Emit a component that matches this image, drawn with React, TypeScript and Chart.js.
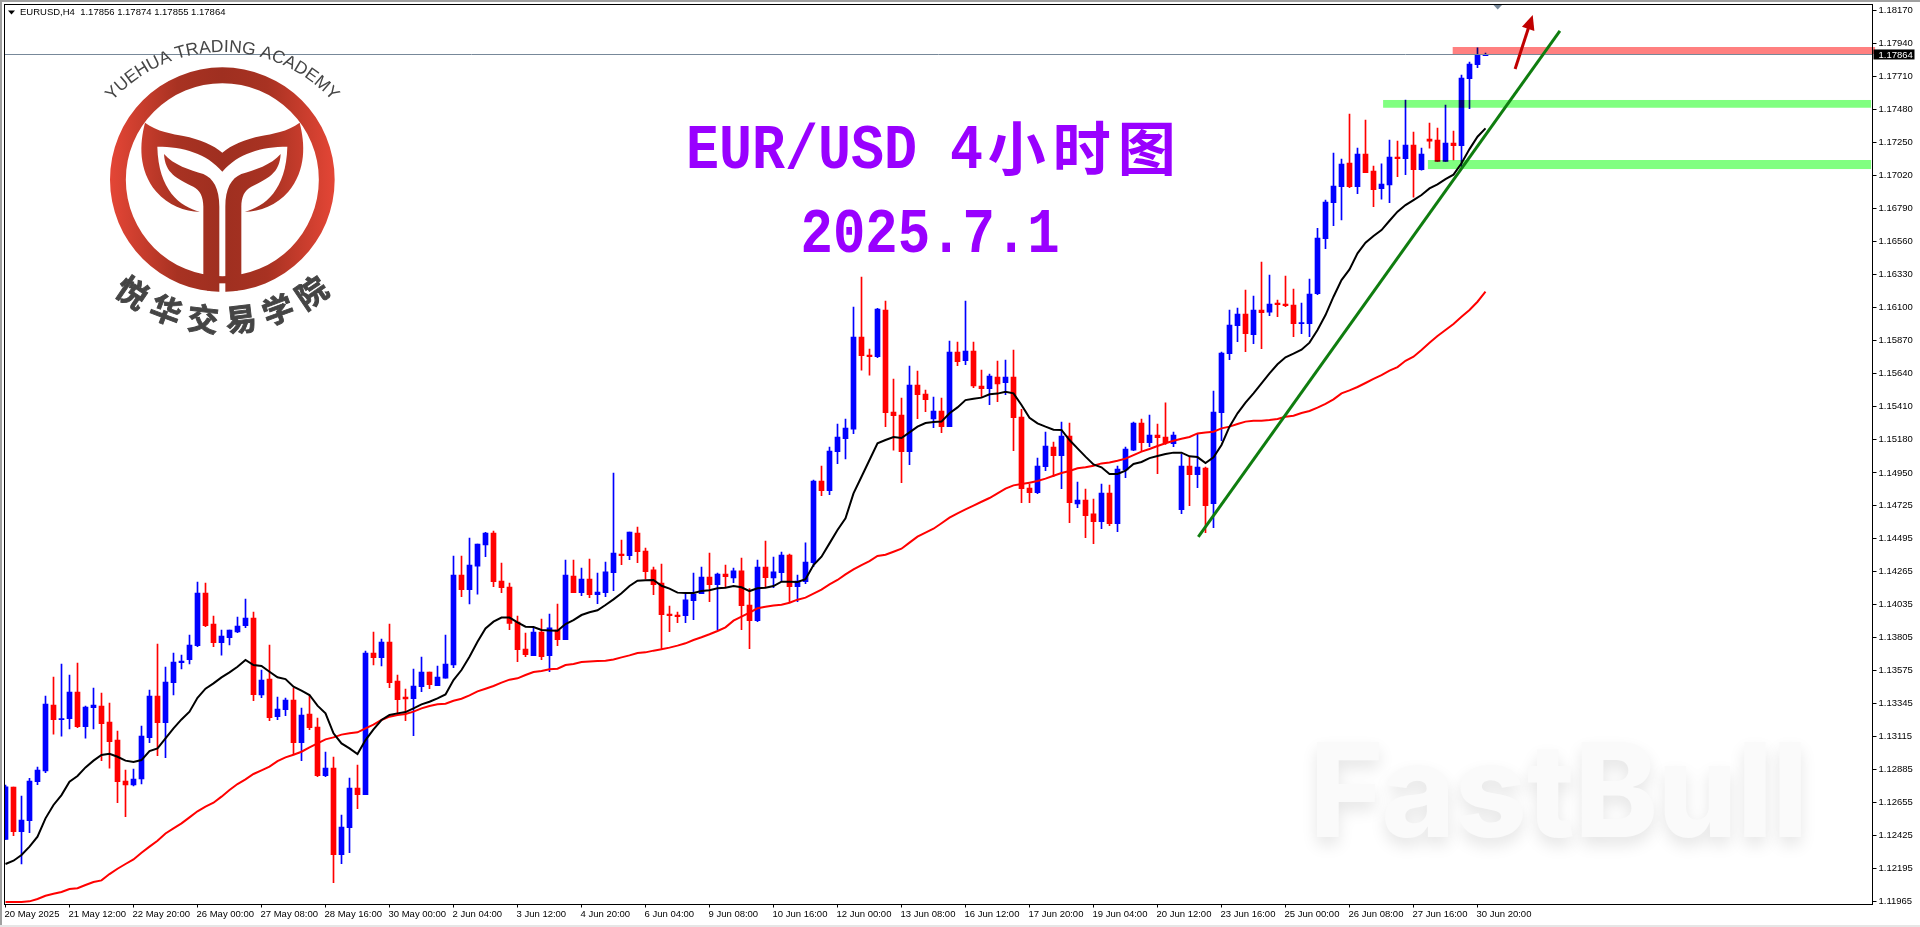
import { useEffect, useRef } from 'react';
import Chart from 'chart.js/auto';

const opens = [
  1.12398, 1.12762, 1.12451, 1.12528, 1.12799, 1.12874, 1.13333, 1.13231, 1.13238, 1.13424,
  1.13182, 1.13315, 1.13326, 1.13215, 1.13089, 1.12804, 1.12776, 1.12818, 1.13106, 1.13396,
  1.13210, 1.13489, 1.13628, 1.13649, 1.13746, 1.14113, 1.13897, 1.13767, 1.13802, 1.13842,
  1.13886, 1.13939, 1.13403, 1.13514, 1.13252, 1.13301, 1.13368, 1.13071, 1.13271, 1.13180,
  1.12841, 1.12894, 1.12291, 1.12479, 1.12755, 1.12709, 1.13695, 1.13663, 1.13772, 1.13500,
  1.13389, 1.13377, 1.13461, 1.13563, 1.13468, 1.13521, 1.13612, 1.14238, 1.14136, 1.14301,
  1.14448, 1.14531, 1.14197, 1.14155, 1.13911, 1.13723, 1.13677, 1.13842, 1.13677, 1.13856,
  1.13788, 1.14232, 1.14116, 1.14211, 1.14102, 1.14116, 1.14255, 1.14385, 1.14373, 1.14531,
  1.14406, 1.14274, 1.14183, 1.13967, 1.13960, 1.13956, 1.14060, 1.14109, 1.14225, 1.14171,
  1.14246, 1.14218, 1.14267, 1.14030, 1.13921, 1.14294, 1.14218, 1.14255, 1.14378, 1.14157,
  1.14192, 1.14325, 1.14893, 1.14826, 1.15098, 1.15188, 1.15255, 1.15896, 1.15771, 1.15759,
  1.16084, 1.15374, 1.15353, 1.15098, 1.15562, 1.15499, 1.15325, 1.15381, 1.15272, 1.15792,
  1.15731, 1.15799, 1.15555, 1.15536, 1.15618, 1.15578, 1.15618, 1.15339, 1.14845, 1.14812,
  1.14993, 1.15130, 1.15070, 1.15207, 1.14733, 1.14761, 1.14664, 1.14610, 1.14810, 1.14596,
  1.14970, 1.15109, 1.15297, 1.15160, 1.15214, 1.15200, 1.15153, 1.14694, 1.14998, 1.14937,
  1.14984, 1.14735, 1.15369, 1.15780, 1.15975, 1.16056, 1.15912, 1.16084, 1.16070, 1.16133,
  1.16126, 1.16119, 1.15989, 1.15989, 1.16198, 1.16581, 1.16832, 1.16943, 1.17108, 1.16943,
  1.17171, 1.17052, 1.16929, 1.16955, 1.17150, 1.17138, 1.17233, 1.17061, 1.17275, 1.17268,
  1.17119, 1.17247, 1.17229, 1.17695, 1.17793, 1.17856,
];

const closes = [
  1.12764, 1.12451, 1.12532, 1.12804, 1.12881, 1.13340, 1.13231, 1.13236, 1.13424, 1.13182,
  1.13319, 1.13333, 1.13203, 1.13078, 1.12799, 1.12776, 1.12818, 1.13117, 1.13396, 1.13210,
  1.13493, 1.13633, 1.13640, 1.13751, 1.14113, 1.13886, 1.13767, 1.13814, 1.13855, 1.13883,
  1.13939, 1.13405, 1.13507, 1.13245, 1.13305, 1.13368, 1.13071, 1.13264, 1.13175, 1.12841,
  1.12894, 1.12291, 1.12484, 1.12755, 1.12709, 1.13695, 1.13663, 1.13772, 1.13489, 1.13370,
  1.13375, 1.13466, 1.13563, 1.13475, 1.13528, 1.13619, 1.14238, 1.14136, 1.14308, 1.14454,
  1.14531, 1.14192, 1.14150, 1.13902, 1.13719, 1.13684, 1.13842, 1.13670, 1.13870, 1.13788,
  1.14239, 1.14116, 1.14211, 1.14102, 1.14120, 1.14260, 1.14392, 1.14373, 1.14538, 1.14401,
  1.14262, 1.14171, 1.13962, 1.13956, 1.13949, 1.14065, 1.14106, 1.14225, 1.14171, 1.14246,
  1.14227, 1.14267, 1.14025, 1.13921, 1.14294, 1.14220, 1.14260, 1.14378, 1.14157, 1.14197,
  1.14329, 1.14893, 1.14826, 1.15102, 1.15200, 1.15262, 1.15896, 1.15766, 1.15759, 1.16091,
  1.15369, 1.15348, 1.15098, 1.15562, 1.15495, 1.15460, 1.15381, 1.15272, 1.15792, 1.15724,
  1.15799, 1.15555, 1.15536, 1.15625, 1.15569, 1.15618, 1.15334, 1.14840, 1.14812, 1.14998,
  1.15137, 1.15070, 1.15207, 1.14742, 1.14761, 1.14652, 1.14610, 1.14810, 1.14596, 1.14977,
  1.15116, 1.15297, 1.15160, 1.15214, 1.15195, 1.15160, 1.15214, 1.14998, 1.14937, 1.14991,
  1.14722, 1.15374, 1.15785, 1.15980, 1.16056, 1.15919, 1.16084, 1.16066, 1.16126, 1.16121,
  1.16114, 1.15989, 1.15994, 1.16196, 1.16586, 1.16836, 1.16948, 1.17101, 1.16943, 1.17171,
  1.17041, 1.16922, 1.16962, 1.17150, 1.17138, 1.17233, 1.17061, 1.17171, 1.17261, 1.17119,
  1.17247, 1.17229, 1.17700, 1.17797, 1.17860, 1.17864,
];

const highs = [
  1.12776, 1.12762, 1.12699, 1.12822, 1.12901, 1.13396, 1.13528, 1.13619, 1.13542, 1.13626,
  1.13326, 1.13452, 1.13417, 1.13347, 1.13152, 1.12881, 1.12887, 1.13187, 1.13438, 1.13758,
  1.13598, 1.13695, 1.13681, 1.13821, 1.14190, 1.14183, 1.13953, 1.13855, 1.13855, 1.13946,
  1.14071, 1.13981, 1.13577, 1.13751, 1.13389, 1.13382, 1.13452, 1.13312, 1.13403, 1.13243,
  1.13006, 1.12971, 1.12567, 1.12825, 1.12915, 1.13709, 1.13842, 1.13793, 1.13897, 1.13542,
  1.13445, 1.13584, 1.13667, 1.13563, 1.13605, 1.13821, 1.14371, 1.14371, 1.14496, 1.14454,
  1.14536, 1.14545, 1.14322, 1.14183, 1.13953, 1.13835, 1.13874, 1.13932, 1.13967, 1.14037,
  1.14343, 1.14343, 1.14287, 1.14350, 1.14253, 1.14329, 1.14949, 1.14482, 1.14538, 1.14573,
  1.14427, 1.14294, 1.14315, 1.14023, 1.13981, 1.14106, 1.14253, 1.14294, 1.14392, 1.14253,
  1.14308, 1.14287, 1.14357, 1.14144, 1.14343, 1.14475, 1.14364, 1.14399, 1.14385, 1.14239,
  1.14462, 1.14900, 1.14998, 1.15130, 1.15290, 1.15325, 1.16105, 1.16314, 1.15813, 1.16096,
  1.16147, 1.15604, 1.15471, 1.15694, 1.15659, 1.15527, 1.15478, 1.15471, 1.15868, 1.15861,
  1.16147, 1.15861, 1.15666, 1.15638, 1.15729, 1.15736, 1.15806, 1.15392, 1.14872, 1.15053,
  1.15235, 1.15165, 1.15304, 1.15297, 1.14886, 1.14838, 1.14768, 1.14872, 1.14865, 1.14998,
  1.15130, 1.15304, 1.15325, 1.15353, 1.15290, 1.15437, 1.15235, 1.15081, 1.15060, 1.15221,
  1.14991, 1.15520, 1.15792, 1.16084, 1.16098, 1.16223, 1.16182, 1.16418, 1.16328, 1.16154,
  1.16321, 1.16230, 1.16133, 1.16300, 1.16653, 1.16850, 1.17178, 1.17136, 1.17449, 1.17212,
  1.17407, 1.17087, 1.17103, 1.17268, 1.17261, 1.17547, 1.17324, 1.17212, 1.17386, 1.17352,
  1.17512, 1.17331, 1.17721, 1.17811, 1.17911, 1.17874,
];

const lows = [
  1.12398, 1.12423, 1.12226, 1.12444, 1.12778, 1.12862, 1.13131, 1.13117, 1.13166, 1.13175,
  1.13103, 1.13166, 1.12946, 1.12894, 1.12653, 1.12556, 1.12769, 1.12783, 1.13071, 1.12980,
  1.12966, 1.13403, 1.13584, 1.13619, 1.13739, 1.13879, 1.13739, 1.13681, 1.13751, 1.13837,
  1.13872, 1.13363, 1.13384, 1.13224, 1.13231, 1.13259, 1.12994, 1.12946, 1.13161, 1.12834,
  1.12834, 1.12096, 1.12228, 1.12305, 1.12611, 1.12709, 1.13612, 1.13605, 1.13454, 1.13275,
  1.13224, 1.13120, 1.13426, 1.13447, 1.13468, 1.13521, 1.13593, 1.14088, 1.14037, 1.14106,
  1.14366, 1.14157, 1.14116, 1.13858, 1.13635, 1.13670, 1.13677, 1.13649, 1.13566, 1.13747,
  1.13788, 1.14116, 1.14095, 1.14081, 1.14039, 1.14088, 1.14130, 1.14311, 1.14345, 1.14325,
  1.14211, 1.14102, 1.13723, 1.13844, 1.13907, 1.13907, 1.13928, 1.14109, 1.14053, 1.13858,
  1.14157, 1.14185, 1.13858, 1.13726, 1.13914, 1.14157, 1.14150, 1.14192, 1.14053, 1.14053,
  1.14178, 1.14297, 1.14791, 1.14798, 1.15014, 1.15047, 1.15223, 1.15666, 1.15631, 1.15752,
  1.15272, 1.15109, 1.14882, 1.15007, 1.15327, 1.15376, 1.15265, 1.15230, 1.15272, 1.15696,
  1.15703, 1.15543, 1.15481, 1.15425, 1.15446, 1.15495, 1.15105, 1.14742, 1.14742, 1.14805,
  1.14965, 1.14923, 1.14840, 1.14603, 1.14708, 1.14499, 1.14457, 1.14561, 1.14582, 1.14540,
  1.14917, 1.15105, 1.15105, 1.15132, 1.14944, 1.15149, 1.15132, 1.14666, 1.14722, 1.14847,
  1.14534, 1.14568, 1.15174, 1.15738, 1.15864, 1.15794, 1.15850, 1.15815, 1.16045, 1.16038,
  1.16107, 1.15898, 1.15919, 1.15898, 1.16191, 1.16511, 1.16671, 1.16711, 1.16936, 1.16894,
  1.17041, 1.16804, 1.16857, 1.16832, 1.17013, 1.17027, 1.16871, 1.17059, 1.17212, 1.17119,
  1.17119, 1.17129, 1.17082, 1.17486, 1.17772, 1.17855,
];

// MA lines (black = fast, red = slow)
const fastMa = [
  1.12226, 1.12249, 1.12289, 1.12347, 1.12416, 1.12544, 1.12637, 1.12706, 1.12799, 1.12839,
  1.12899, 1.12946, 1.12985, 1.12994, 1.12973, 1.12946, 1.12936, 1.12950, 1.13013, 1.13031,
  1.13101, 1.13171, 1.13233, 1.13287, 1.13384, 1.13447, 1.13484, 1.13526, 1.13561, 1.13600,
  1.13647, 1.13612, 1.13605, 1.13565, 1.13526, 1.13514, 1.13461, 1.13433, 1.13403, 1.13329,
  1.13275, 1.13136, 1.13066, 1.13031, 1.12992, 1.13089, 1.13164, 1.13229, 1.13264, 1.13275,
  1.13284, 1.13310, 1.13338, 1.13356, 1.13380, 1.13407, 1.13507, 1.13577, 1.13670, 1.13774,
  1.13867, 1.13914, 1.13942, 1.13942, 1.13909, 1.13879, 1.13877, 1.13856, 1.13853, 1.13851,
  1.13897, 1.13925, 1.13960, 1.13979, 1.13993, 1.14030, 1.14069, 1.14111, 1.14162, 1.14199,
  1.14202, 1.14204, 1.14164, 1.14144, 1.14116, 1.14113, 1.14113, 1.14127, 1.14132, 1.14146,
  1.14150, 1.14162, 1.14153, 1.14127, 1.14146, 1.14150, 1.14162, 1.14192, 1.14192, 1.14190,
  1.14209, 1.14308, 1.14366, 1.14459, 1.14552, 1.14633, 1.14807, 1.14923, 1.15040, 1.15156,
  1.15179, 1.15200, 1.15193, 1.15232, 1.15272, 1.15297, 1.15304, 1.15307, 1.15365, 1.15406,
  1.15457, 1.15467, 1.15474, 1.15497, 1.15502, 1.15515, 1.15504, 1.15423, 1.15334, 1.15295,
  1.15272, 1.15251, 1.15249, 1.15179, 1.15121, 1.15063, 1.15009, 1.14989, 1.14942, 1.14942,
  1.14965, 1.15012, 1.15026, 1.15053, 1.15067, 1.15081, 1.15091, 1.15091, 1.15065, 1.15060,
  1.15019, 1.15058, 1.15144, 1.15272, 1.15365, 1.15439, 1.15504, 1.15573, 1.15643, 1.15706,
  1.15755, 1.15780, 1.15808, 1.15857, 1.15945, 1.16049, 1.16177, 1.16293, 1.16367, 1.16479,
  1.16553, 1.16600, 1.16641, 1.16706, 1.16769, 1.16815, 1.16850, 1.16885, 1.16931, 1.16959,
  1.16996, 1.17027, 1.17106, 1.17205, 1.17291, 1.17349,
];

const slowMa = [
  1.11961, 1.11961, 1.11961, 1.11966, 1.11982, 1.12005, 1.12019, 1.12031, 1.12052, 1.12057,
  1.12080, 1.12101, 1.12112, 1.12156, 1.12193, 1.12226, 1.12258, 1.12305, 1.12347, 1.12388,
  1.12439, 1.12474, 1.12509, 1.12551, 1.12593, 1.12625, 1.12653, 1.12695, 1.12741, 1.12783,
  1.12816, 1.12853, 1.12878, 1.12904, 1.12943, 1.12969, 1.12987, 1.13008, 1.13038, 1.13066,
  1.13094, 1.13108, 1.13127, 1.13136, 1.13143, 1.13171, 1.13196, 1.13229, 1.13252, 1.13264,
  1.13271, 1.13287, 1.13310, 1.13326, 1.13338, 1.13342, 1.13363, 1.13377, 1.13400, 1.13428,
  1.13447, 1.13466, 1.13489, 1.13510, 1.13519, 1.13542, 1.13563, 1.13570, 1.13582, 1.13586,
  1.13612, 1.13619, 1.13633, 1.13637, 1.13640, 1.13642, 1.13651, 1.13665, 1.13679, 1.13696,
  1.13700, 1.13712, 1.13721, 1.13733, 1.13747, 1.13763, 1.13786, 1.13805, 1.13826, 1.13849,
  1.13874, 1.13921, 1.13949, 1.13976, 1.14007, 1.14018, 1.14027, 1.14032, 1.14046, 1.14067,
  1.14081, 1.14109, 1.14137, 1.14174, 1.14204, 1.14243, 1.14278, 1.14308, 1.14336, 1.14371,
  1.14380, 1.14401, 1.14422, 1.14464, 1.14506, 1.14534, 1.14561, 1.14599, 1.14638, 1.14668,
  1.14696, 1.14722, 1.14749, 1.14775, 1.14807, 1.14840, 1.14863, 1.14872, 1.14882, 1.14893,
  1.14910, 1.14930, 1.14949, 1.14963, 1.14982, 1.14989, 1.15000, 1.15016, 1.15023, 1.15035,
  1.15049, 1.15074, 1.15098, 1.15116, 1.15137, 1.15156, 1.15174, 1.15188, 1.15200, 1.15225,
  1.15232, 1.15237, 1.15260, 1.15272, 1.15290, 1.15307, 1.15313, 1.15313, 1.15318, 1.15325,
  1.15341, 1.15348, 1.15367, 1.15381, 1.15404, 1.15430, 1.15462, 1.15504, 1.15525, 1.15548,
  1.15576, 1.15604, 1.15631, 1.15662, 1.15687, 1.15731, 1.15759, 1.15806, 1.15857, 1.15903,
  1.15945, 1.15987, 1.16038, 1.16084, 1.16142, 1.16212,
];

const priceTicks = [
  1.1817, 1.1794, 1.1771, 1.1748, 1.1725, 1.1702, 1.1679, 1.1656, 1.1633, 1.161, 1.1587, 1.1564,
  1.1541, 1.1518, 1.1495, 1.14725, 1.14495, 1.14265, 1.14035, 1.13805, 1.13575, 1.13345, 1.13115,
  1.12885, 1.12655, 1.12425, 1.12195, 1.11965,
];

const timeLabels = [
  '20 May 2025', '21 May 12:00', '22 May 20:00', '26 May 00:00', '27 May 08:00', '28 May 16:00',
  '30 May 00:00', '2 Jun 04:00', '3 Jun 12:00', '4 Jun 20:00', '6 Jun 04:00', '9 Jun 08:00',
  '10 Jun 16:00', '12 Jun 00:00', '13 Jun 08:00', '16 Jun 12:00', '17 Jun 20:00', '19 Jun 04:00',
  '20 Jun 12:00', '23 Jun 16:00', '25 Jun 00:00', '26 Jun 08:00', '27 Jun 16:00', '30 Jun 20:00',
];

const BARS_PER_LABEL = 8;
const LAST_PRICE = 1.17864;
const PRICE_MIN = 1.11944;
const PRICE_MAX = 1.18212;
const X_MIN = -0.125;
const X_MAX = 233.375;
const AXIS_FONT = 'Liberation Sans';

// zones and drawn lines, in bar index / price
const zones = [
  { from: 180.9, to: 233.7, top: 1.17916, bottom: 1.17867, color: '#ff8080' },
  { from: 172.2, to: 233.2, top: 1.17547, bottom: 1.17493, color: '#80ff80' },
  { from: 177.8, to: 233.2, top: 1.17129, bottom: 1.17066, color: '#80ff80' },
];
const trendLine = { x1: 149.1, y1: 1.14505, x2: 194.3, y2: 1.18029 };
const arrowLine = { x1: 188.7, y1: 1.17763, x2: 190.9, y2: 1.18139 };

function drawCurvedText(ctx: CanvasRenderingContext2D, text: string, cx: number, cy: number, r: number) {
  const chars = text.split('');
  const widths = chars.map((c) => ctx.measureText(c).width);
  const total = widths.reduce((a, b) => a + b, 0);
  let run = -total / 2;
  chars.forEach((c, i) => {
    const a = (run + widths[i] / 2) / r;
    ctx.save();
    ctx.translate(cx + r * Math.sin(a), cy - r * Math.cos(a));
    ctx.rotate(a);
    ctx.fillText(c, 0, 0);
    ctx.restore();
    run += widths[i];
  });
}

function drawLogo(ctx: CanvasRenderingContext2D) {
  ctx.save();
  // logo paths are in a 3x grid
  ctx.translate(100, 30);
  ctx.scale(1 / 3, 1 / 3);

  const grad = ctx.createLinearGradient(30, 0, 704, 0);
  grad.addColorStop(0, '#e44636');
  grad.addColorStop(0.3, '#a83222');
  grad.addColorStop(0.5, '#9f2f20');
  grad.addColorStop(0.7, '#a83222');
  grad.addColorStop(1, '#e44636');
  ctx.fillStyle = grad;

  // ring
  ctx.beginPath();
  ctx.arc(367, 449, 337, 0, Math.PI * 2);
  ctx.arc(367, 449, 289.5, 0, Math.PI * 2, true);
  ctx.fill();

  // tail
  ctx.beginPath();
  ctx.moveTo(135, 278);
  ctx.bezierCurveTo(170, 305, 220, 312, 250, 318);
  ctx.bezierCurveTo(300, 328, 340, 345, 367, 368);
  ctx.bezierCurveTo(394, 345, 434, 328, 484, 318);
  ctx.bezierCurveTo(514, 312, 564, 305, 599, 278);
  ctx.bezierCurveTo(615, 340, 620, 420, 565, 485);
  ctx.bezierCurveTo(530, 525, 480, 545, 434, 545);
  ctx.bezierCurveTo(494, 530, 559, 480, 562, 350);
  ctx.bezierCurveTo(484, 350, 414, 370, 367, 425);
  ctx.bezierCurveTo(320, 370, 250, 350, 172, 350);
  ctx.bezierCurveTo(175, 480, 240, 530, 300, 545);
  ctx.bezierCurveTo(254, 545, 204, 525, 169, 485);
  ctx.bezierCurveTo(114, 420, 119, 340, 135, 278);
  ctx.fill();

  // stems with inner leaves
  [false, true].forEach((mirror) => {
    ctx.save();
    if (mirror) {
      ctx.translate(734, 0);
      ctx.scale(-1, 1);
    }
    ctx.beginPath();
    ctx.moveTo(192, 372);
    ctx.bezierCurveTo(220, 405, 270, 420, 310, 432);
    ctx.bezierCurveTo(340, 445, 358, 475, 358, 530);
    ctx.lineTo(358, 752);
    ctx.bezierCurveTo(358, 765, 340, 782, 322, 782);
    ctx.lineTo(300, 740);
    ctx.lineTo(310, 733);
    ctx.lineTo(310, 530);
    ctx.bezierCurveTo(310, 500, 300, 480, 280, 470);
    ctx.bezierCurveTo(230, 445, 195, 430, 192, 372);
    ctx.fill();
    ctx.restore();
  });
  // slit between the stems
  ctx.fillStyle = '#ffffff';
  ctx.fillRect(358, 760, 18, 30);
  ctx.restore();

  ctx.fillStyle = '#454545';
  ctx.textAlign = 'center';
  ctx.textBaseline = 'alphabetic';
  ctx.font = '17.5px "Liberation Sans"';
  drawCurvedText(ctx, 'YUEHUA TRADING ACADEMY', 222.3, 200, 148);

  const cnChars = ['悦', '华', '交', '易', '学', '院'];
  ctx.font = 'bold 31px "Noto Sans CJK SC"';
  ctx.textBaseline = 'middle';
  ctx.strokeStyle = '#454545';
  ctx.lineWidth = 0.9;
  cnChars.forEach((c, i) => {
    const a = ((2.5 - i) * 13.7 * Math.PI) / 180;
    ctx.save();
    ctx.translate(222 - 159 * Math.sin(a), 161 + 159 * Math.cos(a));
    ctx.rotate(a);
    ctx.fillText(c, 0, 0);
    ctx.strokeText(c, 0, 0);
    ctx.restore();
  });
}

function drawTitleLatin(ctx: CanvasRenderingContext2D, text: string, x: number, baseline: number, size: number) {
  ctx.save();
  ctx.translate(x, baseline);
  ctx.scale(1, 1.15);
  ctx.font = `bold ${size}px "Liberation Mono"`;
  ctx.fillText(text, 0, 0);
  ctx.restore();
}

const overlayPlugin = {
  id: 'mtOverlay',
  beforeDraw(chart: any) {
    const { ctx, width, height } = chart;
    ctx.save();
    ctx.fillStyle = '#ffffff';
    ctx.fillRect(0, 0, width, height);
    // window frame
    ctx.fillStyle = '#a0a0a0';
    ctx.fillRect(0, 0, width, 2);
    ctx.fillRect(0, 0, 2, height);
    ctx.fillStyle = '#e6e6e6';
    ctx.fillRect(0, height - 2, width, 2);
    ctx.restore();
  },
  beforeDatasetsDraw(chart: any) {
    const { ctx } = chart;
    ctx.save();
    // faint watermark
    ctx.font = '800 130px Inter';
    ctx.textAlign = 'left';
    ctx.textBaseline = 'alphabetic';
    const w = ctx.measureText('FastBull').width;
    ctx.translate(1310, 837);
    ctx.scale(498 / w, 1);
    ctx.shadowColor = 'rgba(0,0,0,0.1)';
    ctx.shadowBlur = 16;
    ctx.shadowOffsetY = 8;
    ctx.fillStyle = '#fafafa';
    ctx.fillText('FastBull', 0, 0);
    ctx.restore();
  },
  afterDatasetsDraw(chart: any) {
    const { ctx, chartArea, scales } = chart;
    const { x, y } = scales;
    ctx.save();

    ctx.globalCompositeOperation = 'multiply';
    zones.forEach((z) => {
      ctx.fillStyle = z.color;
      const top = y.getPixelForValue(z.top);
      ctx.fillRect(
        x.getPixelForValue(z.from),
        top,
        x.getPixelForValue(z.to) - x.getPixelForValue(z.from),
        y.getPixelForValue(z.bottom) - top,
      );
    });
    ctx.globalCompositeOperation = 'source-over';

    // current price line
    ctx.strokeStyle = '#778899';
    ctx.lineWidth = 1;
    ctx.beginPath();
    ctx.moveTo(chartArea.left, Math.floor(y.getPixelForValue(LAST_PRICE)) + 0.5);
    ctx.lineTo(chartArea.right, Math.floor(y.getPixelForValue(LAST_PRICE)) + 0.5);
    ctx.stroke();

    // trend line
    ctx.strokeStyle = '#0f7d0f';
    ctx.lineWidth = 3;
    ctx.beginPath();
    ctx.moveTo(x.getPixelForValue(trendLine.x1), y.getPixelForValue(trendLine.y1));
    ctx.lineTo(x.getPixelForValue(trendLine.x2), y.getPixelForValue(trendLine.y2));
    ctx.stroke();

    // red arrow
    const ax1 = x.getPixelForValue(arrowLine.x1);
    const ay1 = y.getPixelForValue(arrowLine.y1);
    const ax2 = x.getPixelForValue(arrowLine.x2);
    const ay2 = y.getPixelForValue(arrowLine.y2);
    const ang = Math.atan2(ay2 - ay1, ax2 - ax1);
    ctx.strokeStyle = '#c00000';
    ctx.fillStyle = '#c00000';
    ctx.lineWidth = 3;
    ctx.beginPath();
    ctx.moveTo(ax1, ay1);
    ctx.lineTo(ax2 - 14 * Math.cos(ang), ay2 - 14 * Math.sin(ang));
    ctx.stroke();
    ctx.beginPath();
    ctx.moveTo(ax2, ay2);
    ctx.lineTo(ax2 - 16 * Math.cos(ang - 0.42), ay2 - 16 * Math.sin(ang - 0.42));
    ctx.lineTo(ax2 - 16 * Math.cos(ang + 0.42), ay2 - 16 * Math.sin(ang + 0.42));
    ctx.closePath();
    ctx.fill();

    // small marker hanging from the top border
    ctx.fillStyle = '#778899';
    ctx.beginPath();
    ctx.moveTo(1493.5, 5);
    ctx.lineTo(1502, 5);
    ctx.lineTo(1497.7, 9.5);
    ctx.closePath();
    ctx.fill();

    // symbol line
    ctx.fillStyle = '#000000';
    ctx.beginPath();
    ctx.moveTo(8, 10.5);
    ctx.lineTo(15, 10.5);
    ctx.lineTo(11.5, 14.5);
    ctx.closePath();
    ctx.fill();
    ctx.font = `9.5px "${AXIS_FONT}"`;
    ctx.textAlign = 'left';
    ctx.textBaseline = 'middle';
    ctx.fillText('EURUSD,H4  1.17856 1.17874 1.17855 1.17864', 20, 12.7);

    // titles
    ctx.fillStyle = '#9900ff';
    ctx.textBaseline = 'alphabetic';
    drawTitleLatin(ctx, 'EUR/USD 4', 686, 168.3, 55);
    drawTitleLatin(ctx, '2025.7.1', 800.5, 251.7, 54);
    ctx.font = 'bold 58px "Noto Sans CJK SC"';
    ctx.textAlign = 'center';
    ctx.textBaseline = 'middle';
    ['小', '时', '图'].forEach((c, i) => {
      ctx.fillText(c, 1016.7 + i * 65, 148);
    });

    drawLogo(ctx);
    ctx.restore();

    // frame, left and top sides are not drawn by the axes
    ctx.save();
    ctx.strokeStyle = '#000000';
    ctx.lineWidth = 1;
    ctx.strokeRect(chartArea.left, chartArea.top, chartArea.right - chartArea.left, chartArea.bottom - chartArea.top);
    ctx.restore();
  },
  afterDraw(chart: any) {
    const { ctx, scales } = chart;
    const py = scales.y.getPixelForValue(LAST_PRICE);
    ctx.save();
    ctx.fillStyle = '#000000';
    ctx.fillRect(1873.5, py - 5, 41, 10);
    ctx.fillStyle = '#ffffff';
    ctx.font = `9.5px "${AXIS_FONT}"`;
    ctx.textAlign = 'left';
    ctx.textBaseline = 'middle';
    ctx.fillText(LAST_PRICE.toFixed(5), 1878.5, py + 0.5);
    ctx.restore();
  },
};

// the axes would otherwise reserve room for half of their first and last labels
function clearScalePadding(scale: any) {
  scale.paddingTop = 0;
  scale.paddingBottom = 0;
  scale.paddingLeft = 0;
  scale.paddingRight = 0;
}

export default function App() {
  const canvasRef = useRef<HTMLCanvasElement>(null);

  useEffect(() => {
    if (!canvasRef.current) return;
    const ctx = canvasRef.current.getContext('2d');
    if (!ctx) return;

    const candleColors = closes.map((c, i) => (c >= opens[i] ? '#0000ff' : '#ff0000'));

    const chart = new Chart(ctx, {
      type: 'bar',
      data: {
        datasets: [
          {
            type: 'line',
            label: 'MA fast',
            data: fastMa.map((v, i) => ({ x: i, y: v })),
            borderColor: '#000000',
            borderWidth: 2,
            pointRadius: 0,
            tension: 0,
            order: 0,
          },
          {
            type: 'line',
            label: 'MA slow',
            data: slowMa.map((v, i) => ({ x: i, y: v })),
            borderColor: '#ff0000',
            borderWidth: 2,
            pointRadius: 0,
            tension: 0,
            order: 1,
          },
          {
            label: 'body',
            data: opens.map((o, i) => ({ x: i, y: [o, closes[i]] })),
            backgroundColor: candleColors,
            barThickness: 5,
            grouped: false,
            minBarLength: 1,
            order: 2,
          },
          {
            label: 'wick',
            data: highs.map((h, i) => ({ x: i, y: [lows[i], h] })),
            backgroundColor: candleColors,
            barThickness: 1,
            grouped: false,
            order: 3,
          },
        ],
      } as any,
      options: {
        responsive: false,
        animation: false,
        devicePixelRatio: 1,
        events: [],
        layout: { padding: { left: 4.5, top: 4.5, right: 0, bottom: 0 } },
        plugins: { legend: { display: false }, tooltip: { enabled: false }, title: { display: false } },
        scales: {
          x: {
            type: 'linear',
            min: X_MIN,
            max: X_MAX,
            bounds: 'data',
            offset: false,
            border: { color: '#000000' },
            grid: { drawOnChartArea: false, offset: false, color: '#000000', tickColor: '#000000', tickLength: 3 },
            ticks: {
              align: 'start',
              maxRotation: 0,
              autoSkip: false,
              padding: 1,
              labelOffset: -1,
              color: '#000000',
              font: { family: AXIS_FONT, size: 9.5 },
              callback: (v: any) => timeLabels[Math.round(Number(v) / BARS_PER_LABEL)],
            },
            afterBuildTicks: (scale: any) => {
              scale.ticks = timeLabels.map((_, i) => ({ value: i * BARS_PER_LABEL }));
            },
            afterFit: (scale: any) => {
              scale.height = 22.5;
              clearScalePadding(scale);
            },
          },
          y: {
            type: 'linear',
            position: 'right',
            min: PRICE_MIN,
            max: PRICE_MAX,
            bounds: 'data',
            border: { color: '#000000' },
            grid: { drawOnChartArea: false, color: '#000000', tickColor: '#000000', tickLength: 4 },
            ticks: {
              autoSkip: false,
              padding: 2,
              color: '#000000',
              font: { family: AXIS_FONT, size: 9.5 },
              callback: (v: any) => Number(v).toFixed(5),
            },
            afterBuildTicks: (scale: any) => {
              scale.ticks = priceTicks.map((p) => ({ value: p }));
            },
            afterFit: (scale: any) => {
              scale.width = 47.5;
              clearScalePadding(scale);
            },
          },
        },
      } as any,
      plugins: [overlayPlugin],
    });

    return () => {
      chart.destroy();
    };
  }, []);

  return (
    <canvas
      ref={canvasRef}
      width={1920}
      height={927}
      style={{ position: 'absolute', left: 0, top: 0, width: 1920, height: 927 }}
    ></canvas>
  );
}
